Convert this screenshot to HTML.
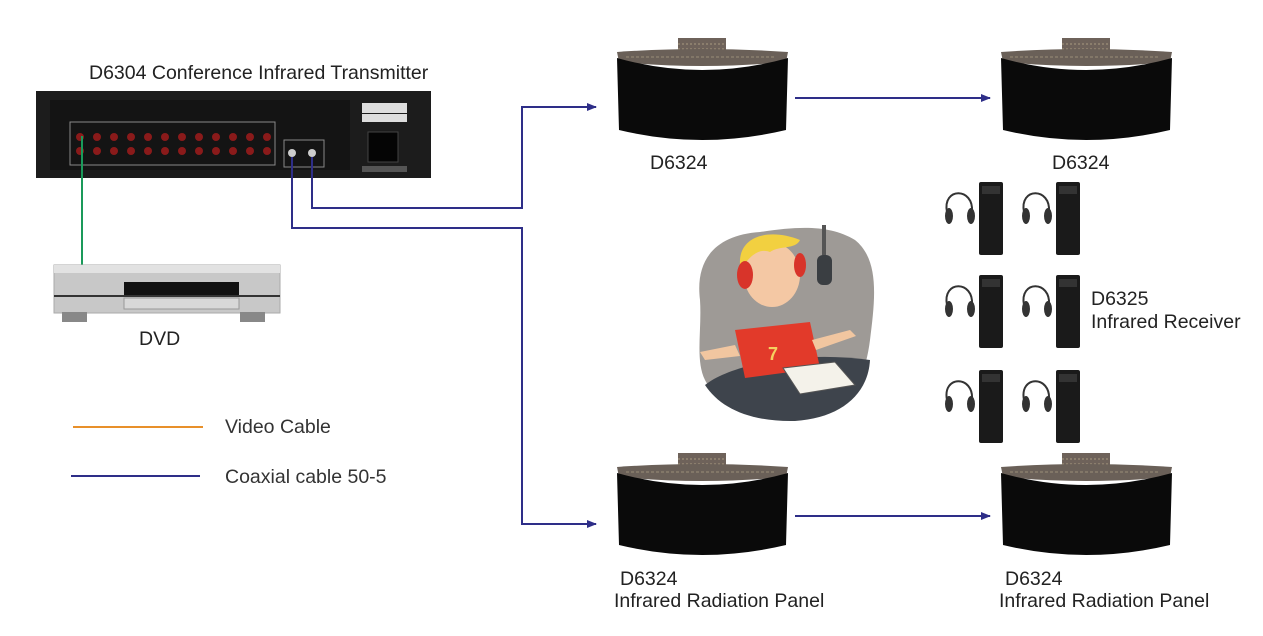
<!DOCTYPE html>
<html><head><meta charset="utf-8"><style>
html,body{margin:0;padding:0;background:#fff;}
svg{display:block;font-family:"Liberation Sans",Arial,sans-serif;}
</style></head><body>
<svg width="1263" height="636" viewBox="0 0 1263 636" xmlns="http://www.w3.org/2000/svg">
<defs>
<g id="panel">
  <rect x="62" y="0" width="48" height="20" fill="#6e625a"/>
  <path d="M62,6 h48 M62,11 h48 M62,16 h48" stroke="#a89a80" stroke-width="1" stroke-dasharray="2 2"/>
  <path d="M1,14 Q86,8 172,14 L170,24 Q86,32 3,24 Z" fill="#6a6058"/>
  <path d="M10,19 h150" stroke="#9a8e78" stroke-width="1" stroke-dasharray="3 2"/>
  <path d="M1,20 Q86,44 172,20 L170,92 Q86,112 3,92 Z" fill="#0a0a0a"/>
</g>
<marker id="ar" markerWidth="10" markerHeight="8" refX="9" refY="4" orient="auto" markerUnits="userSpaceOnUse">
  <path d="M0,0 L10,4 L0,8 Z" fill="#2e2e88"/>
</marker>
<g id="rcv">
  <path d="M3,30 C-2,5 30,5 28,30" fill="none" stroke="#333" stroke-width="2"/>
  <ellipse cx="5" cy="34" rx="4" ry="8" fill="#333"/>
  <ellipse cx="27" cy="34" rx="4" ry="8" fill="#333"/>
  <rect x="35" y="0" width="24" height="73" rx="2" fill="#1a1a1a"/>
  <rect x="38" y="4" width="18" height="8" fill="#333"/>
</g>
</defs>

<text x="89" y="79" font-size="19.5" fill="#222">D6304 Conference Infrared Transmitter</text>
<rect x="36" y="91" width="395" height="87" fill="#1c1c1c"/>
<rect x="50" y="100" width="300" height="70" fill="#141414"/>
<rect x="70" y="122" width="205" height="43" fill="none" stroke="#888" stroke-width="1"/>
<g fill="#8a1a1a">
  <circle cx="80" cy="137" r="4"/><circle cx="97" cy="137" r="4"/><circle cx="114" cy="137" r="4"/><circle cx="131" cy="137" r="4"/><circle cx="148" cy="137" r="4"/><circle cx="165" cy="137" r="4"/><circle cx="182" cy="137" r="4"/><circle cx="199" cy="137" r="4"/><circle cx="216" cy="137" r="4"/><circle cx="233" cy="137" r="4"/><circle cx="250" cy="137" r="4"/><circle cx="267" cy="137" r="4"/>
  <circle cx="80" cy="151" r="4"/><circle cx="97" cy="151" r="4"/><circle cx="114" cy="151" r="4"/><circle cx="131" cy="151" r="4"/><circle cx="148" cy="151" r="4"/><circle cx="165" cy="151" r="4"/><circle cx="182" cy="151" r="4"/><circle cx="199" cy="151" r="4"/><circle cx="216" cy="151" r="4"/><circle cx="233" cy="151" r="4"/><circle cx="250" cy="151" r="4"/><circle cx="267" cy="151" r="4"/>
</g>
<rect x="284" y="140" width="40" height="27" fill="none" stroke="#888"/>
<circle cx="292" cy="153" r="4" fill="#ccc"/><circle cx="312" cy="153" r="4" fill="#ccc"/>
<rect x="362" y="103" width="45" height="10" fill="#ddd"/><rect x="362" y="114" width="45" height="8" fill="#ddd"/>
<rect x="368" y="132" width="30" height="30" fill="#050505" stroke="#444"/>
<rect x="362" y="166" width="45" height="6" fill="#555"/>

<line x1="82" y1="136" x2="82" y2="266" stroke="#1a9a5a" stroke-width="2"/>

<rect x="54" y="265" width="226" height="48" fill="#c8c8c8" stroke="#aaa"/>
<rect x="54" y="265" width="226" height="8" fill="#e2e2e2"/>
<rect x="124" y="282" width="115" height="14" fill="#111"/>
<rect x="124" y="298" width="115" height="11" fill="#d8d8d8" stroke="#999"/>
<rect x="54" y="295" width="226" height="2" fill="#333"/>
<rect x="62" y="312" width="25" height="10" fill="#888"/><rect x="240" y="312" width="25" height="10" fill="#888"/>
<text x="139" y="345" font-size="19.5" fill="#222">DVD</text>

<line x1="73" y1="427" x2="203" y2="427" stroke="#e8902a" stroke-width="2"/>
<text x="225" y="433" font-size="19.5" fill="#333">Video Cable</text>
<line x1="71" y1="476" x2="200" y2="476" stroke="#2e2e88" stroke-width="2"/>
<text x="225" y="483" font-size="19.5" fill="#333">Coaxial cable 50-5</text>

<g fill="none" stroke="#2e2e88" stroke-width="2">
  <path d="M312,157 V208 H522 V107 H596" marker-end="url(#ar)"/>
  <path d="M292,157 V228 H522 V524 H596" marker-end="url(#ar)"/>
  <path d="M795,98 H990" marker-end="url(#ar)"/>
  <path d="M795,516 H990" marker-end="url(#ar)"/>
</g>

<use href="#panel" x="616" y="38"/>
<use href="#panel" x="1000" y="38"/>
<use href="#panel" x="616" y="453"/>
<use href="#panel" x="1000" y="453"/>
<text x="650" y="169" font-size="19.5" fill="#222">D6324</text>
<text x="1052" y="169" font-size="19.5" fill="#222">D6324</text>
<text x="620" y="585" font-size="19.5" fill="#222">D6324</text>
<text x="614" y="607" font-size="19.5" fill="#222">Infrared Radiation Panel</text>
<text x="1005" y="585" font-size="19.5" fill="#222">D6324</text>
<text x="999" y="607" font-size="19.5" fill="#222">Infrared Radiation Panel</text>

<use href="#rcv" x="944" y="182"/><use href="#rcv" x="1021" y="182"/>
<use href="#rcv" x="944" y="275"/><use href="#rcv" x="1021" y="275"/>
<use href="#rcv" x="944" y="370"/><use href="#rcv" x="1021" y="370"/>
<text x="1091" y="305" font-size="19.5" fill="#222">D6325</text>
<text x="1091" y="328" font-size="19.5" fill="#222">Infrared Receiver</text>

<path d="M700,300 C695,260 715,235 760,232 C800,226 830,225 855,240 C880,260 875,300 870,340 C865,380 850,410 800,418 C760,424 720,410 705,380 C695,360 702,330 700,300 Z" fill="#9e9a96"/>
<path d="M705,385 C730,365 800,350 870,360 C868,395 840,418 795,421 C750,422 720,408 705,385 Z" fill="#3e444c"/>
<rect x="822" y="225" width="4" height="30" fill="#555"/>
<rect x="817" y="255" width="15" height="30" rx="6" fill="#3a3e42"/>
<path d="M735,330 L810,322 L820,368 L745,378 Z" fill="#e23a2a"/>
<text x="768" y="360" font-size="18" font-weight="bold" fill="#f5d060">7</text>
<path d="M735,345 L700,352 L705,360 L740,356 Z" fill="#f1c6a0"/>
<path d="M812,340 L850,330 L856,336 L816,350 Z" fill="#f1c6a0"/>
<ellipse cx="772" cy="275" rx="28" ry="32" fill="#f4c8a4"/>
<path d="M740,265 C738,235 770,228 800,240 C795,250 780,245 770,252 C760,248 750,255 742,268 Z" fill="#f2d040"/>
<ellipse cx="745" cy="275" rx="8" ry="14" fill="#d8342a"/>
<ellipse cx="800" cy="265" rx="6" ry="12" fill="#d8342a"/>
<path d="M783,368 L835,362 L855,385 L800,394 Z" fill="#f4f2ea" stroke="#555"/>
</svg>
</body></html>
